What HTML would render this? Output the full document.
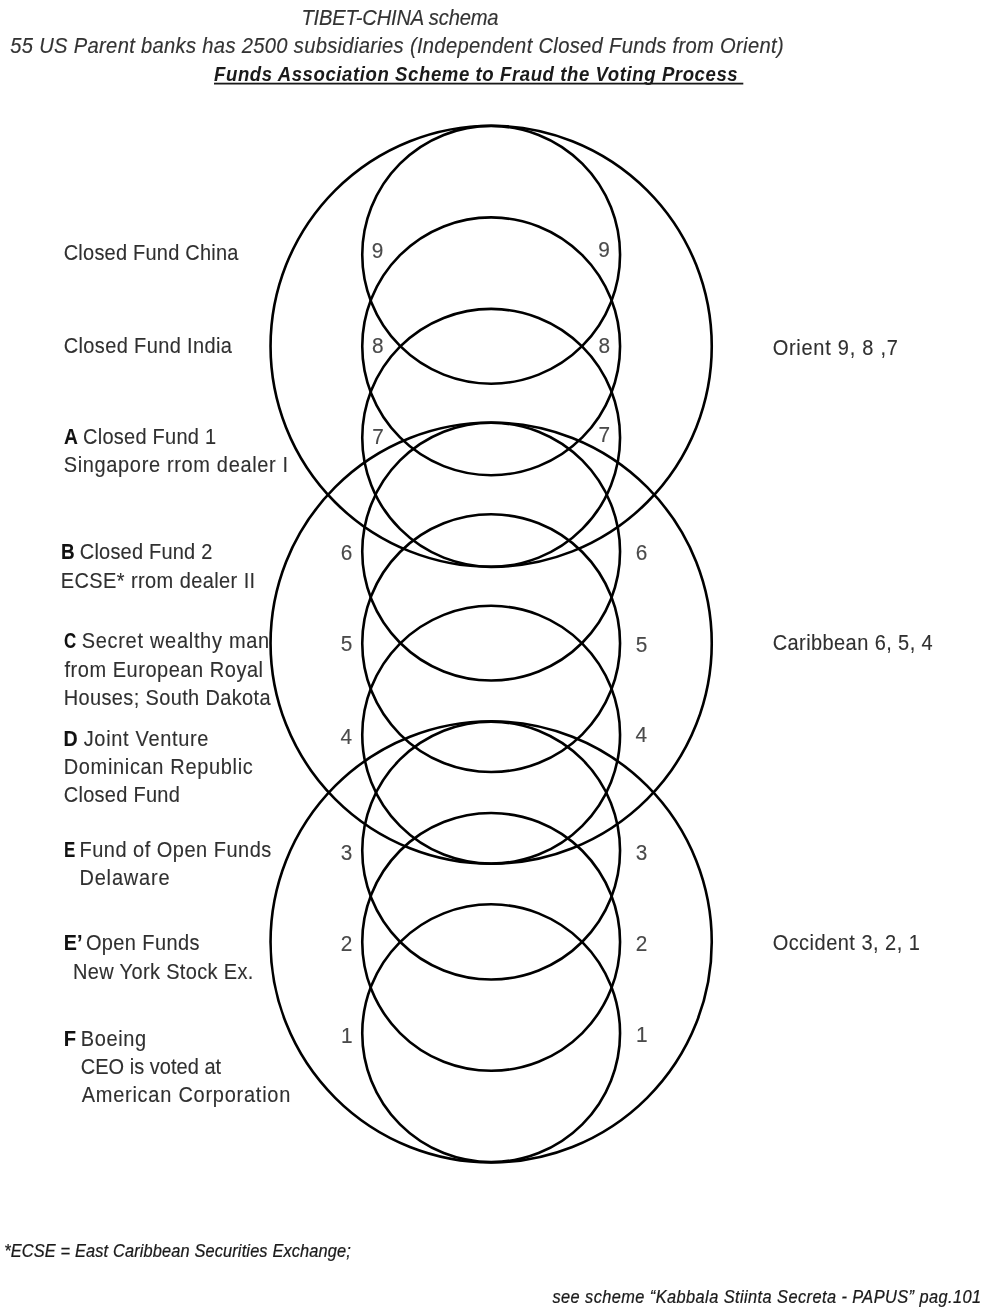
<!DOCTYPE html>
<html lang="en"><head><meta charset="utf-8">
<title>TIBET-CHINA schema</title>
<style>
html,body{margin:0;padding:0;background:#fff;}
body{width:984px;height:1311px;overflow:hidden;}
svg{display:block;filter:grayscale(1) blur(0.4px);}
text{font-family:"Liberation Sans",sans-serif;white-space:pre;}
</style></head><body>
<svg width="984" height="1311" viewBox="0 0 984 1311">
<rect x="0" y="0" width="984" height="1311" fill="#ffffff"/>
<g fill="none" stroke="#000" stroke-width="2.6">
<circle cx="491.15" cy="346.3" r="220.6"/>
<circle cx="491.15" cy="643.15" r="220.6"/>
<circle cx="491.15" cy="941.9" r="220.6"/>
<circle cx="491.15" cy="254.8" r="128.9"/>
<circle cx="491.15" cy="346.3" r="128.9"/>
<circle cx="491.15" cy="437.8" r="128.9"/>
<circle cx="491.15" cy="551.6" r="128.9"/>
<circle cx="491.15" cy="643.15" r="128.9"/>
<circle cx="491.15" cy="734.7" r="128.9"/>
<circle cx="491.15" cy="850.6" r="128.9"/>
<circle cx="491.15" cy="941.9" r="128.9"/>
<circle cx="491.15" cy="1033.2" r="128.9"/>
</g>
<g>
<text transform="translate(301.38 24.80) scale(0.93 1)" font-size="21.7" fill="#333333" stroke="#333333" stroke-width="0.15" font-style="italic" textLength="212.03" lengthAdjust="spacing" xml:space="preserve">TIBET-CHINA schema</text>
<text transform="translate(10.26 52.95) scale(0.93 1)" font-size="21.7" fill="#333333" stroke="#333333" stroke-width="0.15" font-style="italic" textLength="831.58" lengthAdjust="spacing" xml:space="preserve">55 US Parent banks has 2500 subsidiaries (Independent Closed Funds from Orient)</text>
<text transform="translate(214.06 81.00) scale(0.93 1)" font-size="20" fill="#1a1a1a" stroke="#1a1a1a" stroke-width="0" font-style="italic" font-weight="bold" textLength="562.99" lengthAdjust="spacing" xml:space="preserve">Funds Association Scheme to Fraud the Voting Process</text>
<rect x="214.0" y="82.7" width="529.3" height="1.8" fill="#1a1a1a"/>
</g>
<g>
<text transform="translate(63.71 259.70) scale(0.93 1)" font-size="21.5" fill="#303030" stroke="#303030" stroke-width="0.12" textLength="187.83" lengthAdjust="spacing" xml:space="preserve">Closed Fund China</text>
<text transform="translate(63.71 352.90) scale(0.93 1)" font-size="21.5" fill="#303030" stroke="#303030" stroke-width="0.12" textLength="180.89" lengthAdjust="spacing" xml:space="preserve">Closed Fund India</text>
<text transform="translate(64.09 443.80) scale(1 1)" font-size="21.5" fill="#111" stroke="#111" stroke-width="0.1" font-weight="bold" textLength="13.90" lengthAdjust="spacingAndGlyphs" xml:space="preserve">A</text>
<text transform="translate(83.06 443.80) scale(0.93 1)" font-size="21.5" fill="#303030" stroke="#303030" stroke-width="0.12" textLength="143.01" lengthAdjust="spacing" xml:space="preserve">Closed Fund 1</text>
<text transform="translate(63.66 472.30) scale(0.93 1)" font-size="21.5" fill="#303030" stroke="#303030" stroke-width="0.12" textLength="241.40" lengthAdjust="spacing" xml:space="preserve">Singapore rrom dealer I</text>
<text transform="translate(60.92 559.40) scale(1 1)" font-size="21.5" fill="#111" stroke="#111" stroke-width="0.1" font-weight="bold" textLength="13.65" lengthAdjust="spacingAndGlyphs" xml:space="preserve">B</text>
<text transform="translate(79.76 559.40) scale(0.93 1)" font-size="21.5" fill="#303030" stroke="#303030" stroke-width="0.12" textLength="142.55" lengthAdjust="spacing" xml:space="preserve">Closed Fund 2</text>
<text transform="translate(60.72 588.20) scale(0.93 1)" font-size="21.5" fill="#303030" stroke="#303030" stroke-width="0.12" textLength="209.08" lengthAdjust="spacing" xml:space="preserve">ECSE* rrom dealer II</text>
<text transform="translate(64.02 648.30) scale(1 1)" font-size="21.5" fill="#111" stroke="#111" stroke-width="0.1" font-weight="bold" textLength="12.17" lengthAdjust="spacingAndGlyphs" xml:space="preserve">C</text>
<text transform="translate(81.72 648.30) scale(0.93 1)" font-size="21.5" fill="#303030" stroke="#303030" stroke-width="0.12" textLength="201.58" lengthAdjust="spacing" xml:space="preserve">Secret wealthy man</text>
<text transform="translate(64.44 676.80) scale(0.93 1)" font-size="21.5" fill="#303030" stroke="#303030" stroke-width="0.12" textLength="213.53" lengthAdjust="spacing" xml:space="preserve">from European Royal</text>
<text transform="translate(63.72 704.70) scale(0.93 1)" font-size="21.5" fill="#303030" stroke="#303030" stroke-width="0.12" textLength="222.48" lengthAdjust="spacing" xml:space="preserve">Houses; South Dakota</text>
<text transform="translate(63.49 745.90) scale(1 1)" font-size="21.5" fill="#111" stroke="#111" stroke-width="0.1" font-weight="bold" textLength="14.17" lengthAdjust="spacingAndGlyphs" xml:space="preserve">D</text>
<text transform="translate(83.70 745.90) scale(0.93 1)" font-size="21.5" fill="#303030" stroke="#303030" stroke-width="0.12" textLength="134.16" lengthAdjust="spacing" xml:space="preserve">Joint Venture</text>
<text transform="translate(63.72 774.10) scale(0.93 1)" font-size="21.5" fill="#303030" stroke="#303030" stroke-width="0.12" textLength="203.29" lengthAdjust="spacing" xml:space="preserve">Dominican Republic</text>
<text transform="translate(63.71 801.80) scale(0.93 1)" font-size="21.5" fill="#303030" stroke="#303030" stroke-width="0.12" textLength="124.82" lengthAdjust="spacing" xml:space="preserve">Closed Fund</text>
<text transform="translate(64.08 856.90) scale(1 1)" font-size="21.5" fill="#111" stroke="#111" stroke-width="0.1" font-weight="bold" textLength="11.27" lengthAdjust="spacingAndGlyphs" xml:space="preserve">E</text>
<text transform="translate(79.44 856.90) scale(0.93 1)" font-size="21.5" fill="#303030" stroke="#303030" stroke-width="0.12" textLength="206.35" lengthAdjust="spacing" xml:space="preserve">Fund of Open Funds</text>
<text transform="translate(79.44 884.80) scale(0.93 1)" font-size="21.5" fill="#303030" stroke="#303030" stroke-width="0.12" textLength="96.97" lengthAdjust="spacing" xml:space="preserve">Delaware</text>
<text transform="translate(63.85 950.40) scale(1 1)" font-size="21.5" fill="#111" stroke="#111" stroke-width="0.1" font-weight="bold" textLength="18.61" lengthAdjust="spacingAndGlyphs" xml:space="preserve">E’</text>
<text transform="translate(85.90 950.40) scale(0.93 1)" font-size="21.5" fill="#303030" stroke="#303030" stroke-width="0.12" textLength="122.13" lengthAdjust="spacing" xml:space="preserve">Open Funds</text>
<text transform="translate(72.97 978.90) scale(0.93 1)" font-size="21.5" fill="#303030" stroke="#303030" stroke-width="0.12" textLength="193.96" lengthAdjust="spacing" xml:space="preserve">New York Stock Ex.</text>
<text transform="translate(63.75 1045.50) scale(1 1)" font-size="21.5" fill="#111" stroke="#111" stroke-width="0.1" font-weight="bold" textLength="12.31" lengthAdjust="spacingAndGlyphs" xml:space="preserve">F</text>
<text transform="translate(80.77 1045.50) scale(0.93 1)" font-size="21.5" fill="#303030" stroke="#303030" stroke-width="0.12" textLength="70.42" lengthAdjust="spacing" xml:space="preserve">Boeing</text>
<text transform="translate(80.68 1073.70) scale(0.93 1)" font-size="21.5" fill="#303030" stroke="#303030" stroke-width="0.12" textLength="151.05" lengthAdjust="spacing" xml:space="preserve">CEO is voted at</text>
<text transform="translate(81.66 1101.90) scale(0.93 1)" font-size="21.5" fill="#303030" stroke="#303030" stroke-width="0.12" textLength="224.40" lengthAdjust="spacing" xml:space="preserve">American Corporation</text>
<text transform="translate(772.63 355.10) scale(0.93 1)" font-size="21.5" fill="#303030" stroke="#303030" stroke-width="0.12" textLength="134.58" lengthAdjust="spacing" xml:space="preserve">Orient 9, 8 ,7</text>
<text transform="translate(772.71 650.10) scale(0.93 1)" font-size="21.5" fill="#303030" stroke="#303030" stroke-width="0.12" textLength="172.03" lengthAdjust="spacing" xml:space="preserve">Caribbean 6, 5, 4</text>
<text transform="translate(772.63 950.10) scale(0.93 1)" font-size="21.5" fill="#303030" stroke="#303030" stroke-width="0.12" textLength="158.29" lengthAdjust="spacing" xml:space="preserve">Occident 3, 2, 1</text>
</g>
<g>
<text transform="translate(4.22 1256.50) scale(0.93 1)" font-size="17.6" fill="#1a1a1a" stroke="#1a1a1a" stroke-width="0.25" font-style="italic" textLength="372.73" lengthAdjust="spacing" xml:space="preserve">*ECSE = East Caribbean Securities Exchange;</text>
<text transform="translate(552.43 1303.00) scale(0.93 1)" font-size="17.6" fill="#1a1a1a" stroke="#1a1a1a" stroke-width="0.25" font-style="italic" textLength="460.97" lengthAdjust="spacing" xml:space="preserve">see scheme “Kabbala Stiinta Secreta - PAPUS” pag.101</text>
</g>
<g font-size="22.4" fill="#4a4a4a" stroke="#4a4a4a" stroke-width="0.15" text-anchor="middle">
<text transform="translate(377.6 258.0) scale(0.93 1)">9</text>
<text transform="translate(377.7 353.1) scale(0.93 1)">8</text>
<text transform="translate(378.0 443.7) scale(0.93 1)">7</text>
<text transform="translate(604.0 256.6) scale(0.93 1)">9</text>
<text transform="translate(604.3 353.1) scale(0.93 1)">8</text>
<text transform="translate(604.3 441.8) scale(0.93 1)">7</text>
<text transform="translate(346.6 559.8) scale(0.93 1)">6</text>
<text transform="translate(346.5 650.7) scale(0.93 1)">5</text>
<text transform="translate(346.2 744.0) scale(0.93 1)">4</text>
<text transform="translate(346.5 859.8) scale(0.93 1)">3</text>
<text transform="translate(346.5 950.7) scale(0.93 1)">2</text>
<text transform="translate(346.8 1042.6) scale(0.93 1)">1</text>
<text transform="translate(641.6 559.8) scale(0.93 1)">6</text>
<text transform="translate(641.6 651.9) scale(0.93 1)">5</text>
<text transform="translate(641.3 742.3) scale(0.93 1)">4</text>
<text transform="translate(641.5 859.8) scale(0.93 1)">3</text>
<text transform="translate(641.5 950.7) scale(0.93 1)">2</text>
<text transform="translate(641.8 1042.3) scale(0.93 1)">1</text>
</g>
</svg>
</body></html>
